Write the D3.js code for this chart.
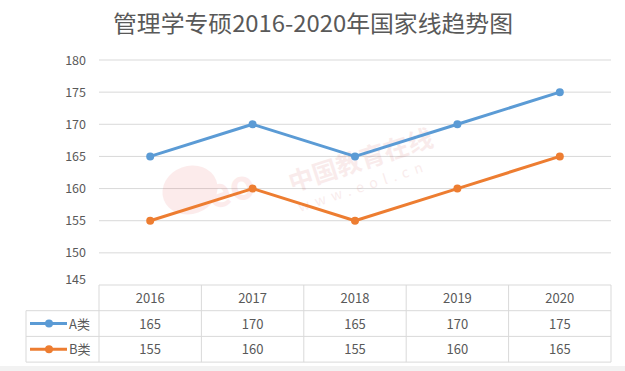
<!DOCTYPE html>
<html>
<head>
<meta charset="utf-8">
<script src="https://cdn.jsdelivr.net/npm/d3@7"></script>
<style>
body { margin: 0; background: #fff; }
text { font-family: "Noto Sans CJK SC", "Noto Sans", sans-serif; fill: #595959; }
</style>
</head>
<body>
<div id="chart"></div>
<script>
var width = 625;
var height = 371;

// data
var years = ['2016', '2017', '2018', '2019', '2020'];
var seriesNames = ['A类', 'B类'];
var valuesA = [165, 170, 165, 170, 175];
var valuesB = [155, 160, 155, 160, 165];
var yTicks = [145, 150, 155, 160, 165, 170, 175, 180];
var colors = ['#5B9BD5', '#ED7D31'];

var series = [valuesA, valuesB];

var svg = d3.select("#chart").append("svg").attr('width', width).attr('height', height);

// plot box (note: "top" is taken by window.top, so use plotTop)
var plotLeft = 99, plotRight = 611, plotTop = 60, plotBottom = 285;
var rowH = 25.7;

var x = d3.scaleBand().domain(years).range([plotLeft, plotRight]);
var y = d3.scaleLinear().domain([145, 180]).range([plotBottom, plotTop]);

// title
svg.append('text')
   .attr('x', 313)
   .attr('y', 32)
   .attr('text-anchor', 'middle')
   .style('font-size', '23px')
   .attr('textLength', 400)
   .attr('lengthAdjust', 'spacingAndGlyphs')
   .text('管理学专硕2016-2020年国家线趋势图');

// gridlines
svg.append('g').selectAll('line')
   .data(yTicks.filter(function(d){ return d > 145; }))
   .enter().append('line')
   .attr('x1', plotLeft).attr('x2', plotRight)
   .attr('y1', function(d){ return y(d); })
   .attr('y2', function(d){ return y(d); })
   .attr('stroke', '#d9d9d9').attr('stroke-width', 1);

// y labels
svg.append('g').selectAll('text')
   .data(yTicks)
   .enter().append('text')
   .attr('x', 86)
   .attr('y', function(d){ return y(d) + (d == 145 ? -1 : 4.5); })
   .attr('text-anchor', 'end')
   .style('font-size', '12.5px')
   .text(function(d){ return d; });

// watermark
var wm = svg.append('g').attr('opacity', 0.09);
wm.append('ellipse').attr('cx', 190).attr('cy', 190).attr('rx', 28).attr('ry', 24)
  .attr('fill', '#e03030').attr('transform', 'rotate(-20,190,190)');
wm.append('text').attr('x', 212).attr('y', 210).style('font-size', '40px').style('font-weight', 'bold')
  .style('fill', '#e03030').attr('transform', 'rotate(-18,212,210)').text('eo');
wm.append('text').attr('x', 292).attr('y', 192).style('font-size', '25px').style('font-weight', 'bold')
  .style('fill', '#c03030').attr('transform', 'rotate(-18,292,192)').text('中国教育在线');
wm.append('text').attr('x', 300).attr('y', 212).style('font-size', '14px').attr('letter-spacing', '6px')
  .style('fill', '#c03030').attr('transform', 'rotate(-18,300,212)').text('www.eol.cn');

// lines
var line = d3.line()
   .x(function(d, i){ return x(years[i]) + x.bandwidth() / 2; })
   .y(function(d){ return y(d); });

series.forEach(function(vals, s){
    svg.append('path')
       .attr('d', line(vals))
       .attr('fill', 'none')
       .attr('stroke', colors[s])
       .attr('stroke-width', 3)
       .attr('stroke-linejoin', 'round');
    svg.append('g').selectAll('circle')
       .data(vals)
       .enter().append('circle')
       .attr('cx', function(d, i){ return x(years[i]) + x.bandwidth() / 2; })
       .attr('cy', function(d){ return y(d); })
       .attr('r', 4)
       .attr('fill', colors[s]);
});

// data table
var tbl = svg.append('g');
var tblLeft = 26;
var gridColor = '#d9d9d9';

// horizontal lines
tbl.append('line').attr('x1', plotLeft).attr('x2', plotRight).attr('y1', plotBottom).attr('y2', plotBottom).attr('stroke', gridColor);
for (var r = 1; r <= 3; r++) {
    tbl.append('line').attr('x1', tblLeft).attr('x2', plotRight)
       .attr('y1', plotBottom + rowH * r).attr('y2', plotBottom + rowH * r).attr('stroke', gridColor);
}
// vertical lines
x.domain().forEach(function(yr){
    tbl.append('line').attr('x1', x(yr)).attr('x2', x(yr))
       .attr('y1', plotBottom).attr('y2', plotBottom + rowH * 3).attr('stroke', gridColor);
});
tbl.append('line').attr('x1', plotRight).attr('x2', plotRight).attr('y1', plotBottom).attr('y2', plotBottom + rowH * 3).attr('stroke', gridColor);
tbl.append('line').attr('x1', tblLeft).attr('x2', tblLeft).attr('y1', plotBottom + rowH).attr('y2', plotBottom + rowH * 3).attr('stroke', gridColor);

// header
tbl.selectAll('.yr').data(years).enter().append('text')
   .attr('x', function(d){ return x(d) + x.bandwidth() / 2; })
   .attr('y', plotBottom + rowH / 2 + 5)
   .attr('text-anchor', 'middle')
   .style('font-size', '13px')
   .text(function(d){ return d; });

series.forEach(function(vals, s){
    var cy = plotBottom + rowH * (s + 1) + rowH / 2;
    tbl.append('line').attr('x1', 30).attr('x2', 67).attr('y1', cy).attr('y2', cy)
       .attr('stroke', colors[s]).attr('stroke-width', 3);
    tbl.append('circle').attr('cx', 49).attr('cy', cy).attr('r', 4).attr('fill', colors[s]);
    tbl.append('text').attr('x', 69).attr('y', cy + 5).style('font-size', '13px').text(seriesNames[s]);
    tbl.selectAll('.v' + s).data(vals).enter().append('text')
       .attr('x', function(d, i){ return x(years[i]) + x.bandwidth() / 2; })
       .attr('y', cy + 5)
       .attr('text-anchor', 'middle')
       .style('font-size', '13px')
       .text(function(d){ return d; });
});

// bottom strip
svg.append('rect').attr('x', 0).attr('y', 366).attr('width', width).attr('height', 5).attr('fill', '#f2f2f2');
</script>
</body>
</html>
